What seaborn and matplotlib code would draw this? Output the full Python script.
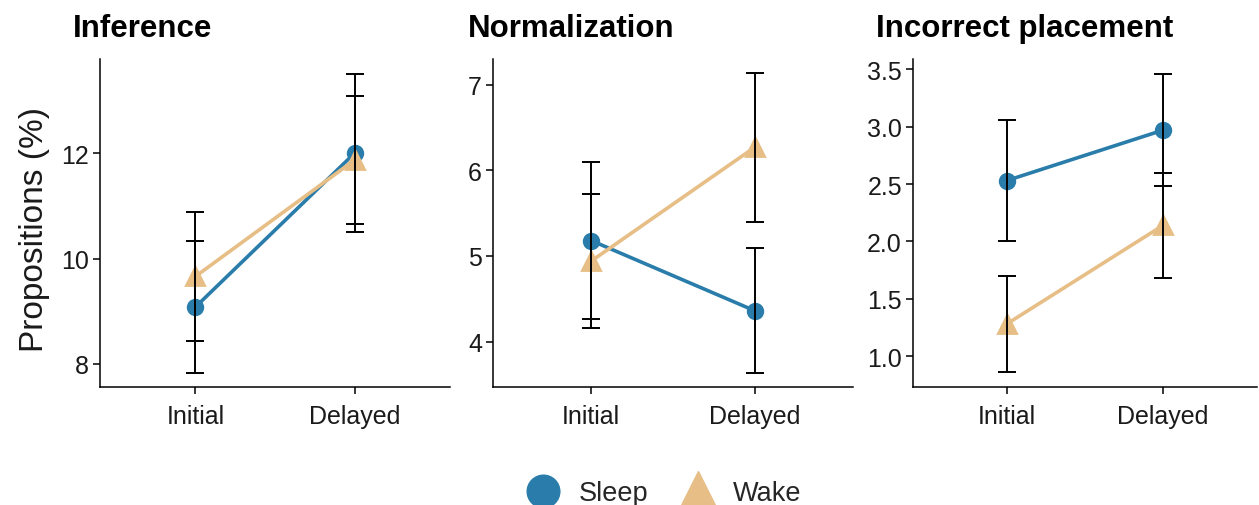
import numpy as np
import pandas as pd
import matplotlib
matplotlib.use("Agg")
import matplotlib.pyplot as plt
from matplotlib.lines import Line2D
import seaborn as sns

# ---------------- data ----------------
times = ["Initial", "Delayed"]
groups = ["Sleep", "Wake"]
panel_titles = ["Inference", "Normalization", "Incorrect placement"]

inference_sleep = [9.08, 12.00]
inference_sleep_se = [1.25, 1.50]
inference_wake = [9.66, 11.87]
inference_wake_se = [1.22, 1.22]

normalization_sleep = [5.18, 4.36]
normalization_sleep_se = [0.92, 0.73]
normalization_wake = [4.94, 6.27]
normalization_wake_se = [0.78, 0.87]

incorrect_sleep = [2.53, 2.97]
incorrect_sleep_se = [0.53, 0.49]
incorrect_wake = [1.28, 2.14]
incorrect_wake_se = [0.42, 0.46]

yticks_list = [[8, 10, 12], [4, 5, 6, 7], [1.0, 1.5, 2.0, 2.5, 3.0, 3.5]]
ylims = [(7.56, 13.79), (3.47, 7.30), (0.73, 3.59)]

panels = [
    (inference_sleep, inference_sleep_se, inference_wake, inference_wake_se),
    (normalization_sleep, normalization_sleep_se, normalization_wake, normalization_wake_se),
    (incorrect_sleep, incorrect_sleep_se, incorrect_wake, incorrect_wake_se),
]

colors = {"Sleep": "#2A7DAA", "Wake": "#E6BE86"}

# ---------------- style ----------------
sns.set_theme(style="ticks")
plt.rcParams["font.family"] = ["Liberation Sans", "DejaVu Sans"]
plt.rcParams["axes.linewidth"] = 1.1
plt.rcParams["xtick.major.width"] = 1.1
plt.rcParams["ytick.major.width"] = 1.1

fig = plt.figure(figsize=(12.59, 5.06), dpi=100)
W, H = 1259, 506
axes_px = [(100, 450), (493, 853), (913, 1257)]
top_px, bot_px = 60, 388
title_x = [73, 468, 876]

for i, (sv, se_s, wv, se_w) in enumerate(panels):
    l, r = axes_px[i]
    ax = fig.add_axes([l / W, 1 - bot_px / H, (r - l) / W, (bot_px - top_px) / H])
    df = pd.DataFrame({
        "time": times * 2,
        "group": [groups[0]] * 2 + [groups[1]] * 2,
        "value": list(sv) + list(wv),
        "se": list(se_s) + list(se_w),
    })
    sns.pointplot(data=df, x="time", y="value", hue="group", order=times,
                  hue_order=groups, palette=colors, markers=["o", "^"],
                  linestyles=["-", "-"], errorbar=None, legend=False, ax=ax)
    for ln in ax.lines:
        ln.set_linewidth(2.6)
        if ln.get_marker() == "o":
            ln.set_markersize(10.5)
        elif ln.get_marker() == "^":
            ln.set_markersize(13)
    for g in groups:
        sub = df[df["group"] == g]
        xs = [times.index(t) for t in sub["time"]]
        ax.errorbar(xs, sub["value"], yerr=sub["se"], fmt="none",
                    ecolor="black", elinewidth=1.4, capsize=6.8,
                    capthick=1.4, zorder=10)
    ax.set_xlim(-0.6, 1.6)
    ax.set_ylim(*ylims[i])
    ax.set_yticks(yticks_list[i])
    if i == 2:
        ax.set_yticklabels([f"{v:.1f}" for v in yticks_list[i]])
    ax.set_xlabel("")
    ax.set_ylabel("")
    sns.despine(ax=ax)
    ax.tick_params(axis="both", labelsize=18, length=5, colors="black",
                   labelcolor="#1a1a1a")
    ax.tick_params(axis="x", pad=7)
    ax.tick_params(axis="y", pad=3)
    for s in ["left", "bottom"]:
        ax.spines[s].set_color("black")
    fig.text(title_x[i] / W, 1 - 29 / H, panel_titles[i], fontsize=22.5,
             fontweight="bold", ha="left", va="center", color="black")

fig.text(35 / W, 1 - 230 / H, "Propositions (%)", rotation=90, fontsize=24,
         ha="center", va="center", color="#1a1a1a")

handles = [
    Line2D([], [], marker="o", linestyle="none", color=colors["Sleep"], markersize=23.5),
    Line2D([], [], marker="^", linestyle="none", color=colors["Wake"], markersize=29),
]
fig.legend(handles, groups, loc="center", bbox_to_anchor=(0.526, 1 - 494 / H),
           ncol=2, frameon=False, fontsize=19.5, handletextpad=0.55,
           columnspacing=1.1, handlelength=1.5)

fig.savefig("out.png", dpi=100)
